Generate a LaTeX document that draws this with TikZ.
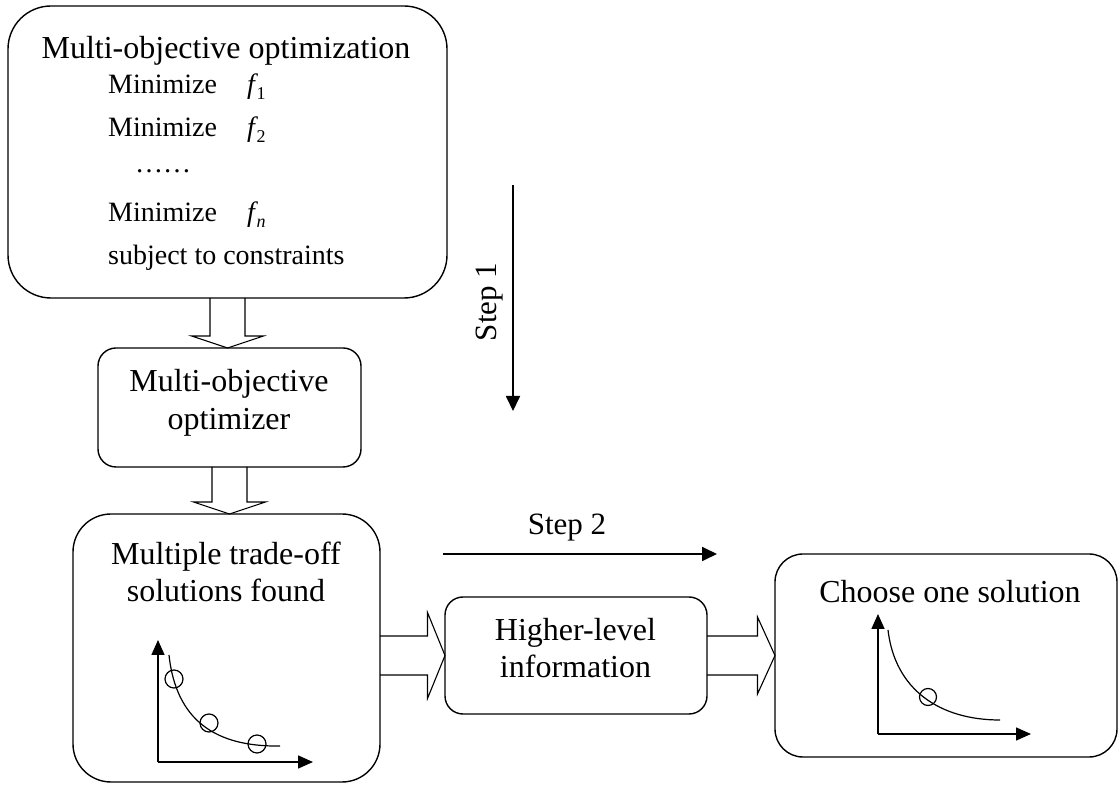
\documentclass[tikz,border=0pt]{standalone}
\usepackage{fontspec}
\setmainfont{Liberation Serif}
\usetikzlibrary{arrows.meta,calc}
\newcommand\fsub[1]{\textit{f}\kern-1.5pt\raisebox{-6pt}{\fontsize{18}{18}\selectfont #1}}
\newcommand\vblk[2]{\draw[blk] let \p1=(#1.south), \p2=(#2.north) in
  (\x1-17.5pt,\y1) -- (\x1-17.5pt,\y2+12pt) -- (\x1-36pt,\y2+12pt) -- (\x1,\y2)
  -- (\x1+36pt,\y2+12pt) -- (\x1+17.5pt,\y2+12pt) -- (\x1+17.5pt,\y1);}
\newcommand\hblk[3]{\draw[blk] let \p1=(#1.east), \p2=(#2.west) in
  (\x1,\y2+19.5pt) -- (\x2-17.5pt,\y2+19.5pt) -- (\x2-17.5pt,\y2+#3) -- (\x2,\y2)
  -- (\x2-17.5pt,\y2-#3) -- (\x2-17.5pt,\y2-19.5pt) -- (\x1,\y2-19.5pt);}
\begin{document}
\begin{tikzpicture}[x=1pt,y=1pt,
  box/.style={draw,line width=1.4pt,inner sep=0pt,outer sep=0pt},
  big/.style={font=\fontsize{32}{37}\selectfont,inner sep=0pt},
  mid/.style={font=\fontsize{28}{33}\selectfont,inner sep=0pt},
  blk/.style={draw,line width=1.1pt,line join=miter},
  ax/.style={line width=1.6pt,-{Triangle[length=15pt,width=13pt]}},
  stp/.style={line width=1.8pt,-{Triangle[length=15pt,width=14pt]}},
  crv/.style={line width=1.2pt},
  dot/.style={line width=1.2pt}]
\useasboundingbox (0,0) rectangle (1120,785);

% boxes
\node[box,rounded corners=43pt,minimum width=439pt,minimum height=292pt] (prob) at (227.5,633) {};
\node[box,rounded corners=18pt,minimum width=263pt,minimum height=119pt] (opt) at (229.5,377.5) {};
\node[box,rounded corners=38pt,minimum width=307pt,minimum height=268pt] (found) at (226.5,137) {};
\node[box,rounded corners=18pt,minimum width=262pt,minimum height=117pt] (info) at (576,129.5) {};
\node[box,rounded corners=28pt,minimum width=342pt,minimum height=203pt] (choose) at (946,129.5) {};

% texts in problem box
\node[big,anchor=base] (ttl) at (226,726) {Multi-objective optimization};
\node[mid,anchor=base west] (m1) at (108,691) {Minimize\hspace{30pt}\fsub{1}};
\node[mid,anchor=base west] (m2) at (108,648) {Minimize\hspace{30pt}\fsub{2}};
\node[mid,anchor=base west] (dots) at (135,612) {……};
\node[mid,anchor=base west] (mn) at (108,563) {Minimize\hspace{30pt}\fsub{\textit{n}}};
\node[mid,anchor=base west] (sub) at (108,520) {subject to constraints};

% other texts
\node[big,anchor=base] (o1) at (229,393) {Multi-objective};
\node[big,anchor=base] (o2) at (229,355) {optimizer};
\node[big,anchor=base] (f1t) at (226,220) {Multiple trade-off};
\node[big,anchor=base] (f2t) at (226,183) {solutions found};
\node[big,anchor=base] (i1) at (575.5,144) {Higher-level};
\node[big,anchor=base] (i2) at (575.5,107) {information};
\node[big,anchor=base] (c1) at (950,182) {Choose one solution};

% block arrows
\vblk{prob}{opt}
\vblk{opt}{found}
\hblk{found}{info}{43pt}
\hblk{info}{choose}{38.5pt}

% step arrows
\coordinate (s1a) at (513,600);
\coordinate (s1b) at (513,374);
\draw[stp] (s1a) -- (s1b);
\node[font=\fontsize{31}{36}\selectfont,inner sep=0pt,rotate=90,anchor=base] (s1t) at (496,483) {Step 1};
\coordinate (s2a) at (443,231);
\coordinate (s2b) at (717,231);
\draw[stp] (s2a) -- (s2b);
\node[font=\fontsize{31}{36}\selectfont,inner sep=0pt,anchor=base] (s2t) at (567,250) {Step 2};

% plot in found box
\coordinate (oa) at (158,23);
\draw[ax] (oa) -- (158,145);
\draw[ax] (oa) -- (313,23);
\draw[crv] (169,130) .. controls (176,65) and (215,38) .. (280,39);
\draw[dot] (174,106) circle (9);
\draw[dot] (209,62) circle (9);
\draw[dot] (257,41) circle (9);

% plot in choose box
\coordinate (ob) at (878,51);
\draw[ax] (ob) -- (878,171);
\draw[ax] (ob) -- (1031,51);
\draw[crv] (888,155) .. controls (895,95) and (940,65) .. (1000,65);
\draw[dot] (928,88) circle (8.5);
\end{tikzpicture}
\end{document}
